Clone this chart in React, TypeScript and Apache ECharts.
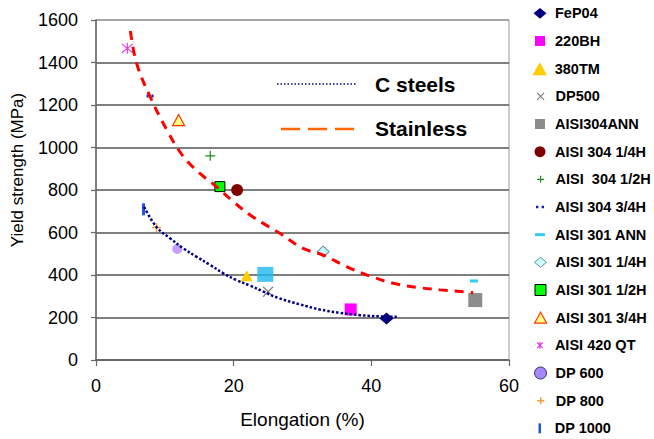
import React, { useEffect, useRef } from 'react';
import * as echarts from 'echarts';

// ---------- data ----------
const materialNames = [
  'FeP04', '220BH', '380TM', 'DP500', 'AISI304ANN', 'AISI 304 1/4H', 'AISI  304 1/2H',
  'AISI 304 3/4H', 'AISI 301 ANN', 'AISI 301 1/4H', 'AISI 301 1/2H', 'AISI 301 3/4H',
  'AISI 420 QT', 'DP 600', 'DP 800', 'DP 1000',
];
const elongation = [42.2, 37.0, 21.9, 25.0, 55.1, 20.5, 16.6, 7.85, 54.9, 33.0, 18.0, 12.0, 4.55, 11.8, 8.8, 6.9];
const yieldStrength = [195, 238, 397, 321, 282, 800, 961, 1242, 372, 510, 816, 1129, 1467, 522, 623, 709];

const unlabeledElongation = [24.6];
const unlabeledYield = [403];

const cSteelsX = [7.0, 8.8, 10.75, 12.7, 14.6, 16.6, 18.5, 20.4, 22.4, 24.3, 26.5, 29.6, 32.5, 35.4, 38.4, 41.3, 43.7];
const cSteelsY = [720, 625, 573, 525, 486, 447, 408, 376, 350, 322, 292, 262, 238, 222, 211, 205, 203];

const stainlessX = [5.0, 5.9, 7.85, 10.3, 12.7, 15.1, 17.5, 19.95, 22.4, 24.3, 26.7, 30.1, 33.0, 36.4, 39.8, 43.2, 46.6, 50.0, 53.4, 54.8];
const stainlessY = [1548, 1396, 1240, 1082, 957, 878, 816, 745, 682, 643, 596, 525, 494, 439, 395, 361, 342, 330, 321, 316];

const xTicks = { min: 0, max: 60, interval: 20 };
const yTicks = { min: 0, max: 1600, interval: 200 };

// ---------- styles ----------
const FONT = '"Liberation Sans", Arial, sans-serif';
const P = {
  diamond: 'path://M6,0L12,5L6,10L0,5Z',
  square: 'path://M0,0L10,0L10,10L0,10Z',
  triangle: 'path://M5,0L10,9L0,9Z',
  cross: 'path://M0,0L10,10M10,0L0,10',
  plus: 'path://M5,0L5,10M0,5L10,5',
  circle: 'path://M0,5A5,5,0,1,1,10,5A5,5,0,1,1,0,5Z',
  dots: 'path://M0,0L3,0L3,3L0,3ZM7,0L10,0L10,3L7,3Z',
  dash: 'path://M0,0L10,0L10,3L0,3Z',
  star: 'path://M1,1L9,9M9,1L1,9M5,0L5,10',
  bar: 'path://M0,0L2.5,0L2.5,10L0,10Z',
};

type MS = {
  symbol: string; size: number[]; fill: string; stroke?: string; bw?: number;
  lw: number; lh: number; lfill?: string; lstroke?: string;
};
const markerStyles: MS[] = [
  { symbol: P.diamond, size: [14, 12], fill: '#000080', lw: 13, lh: 11 },
  { symbol: P.square, size: [12, 12], fill: '#FF00FF', lw: 10, lh: 10 },
  { symbol: P.triangle, size: [12, 11], fill: '#FFCC00', lw: 15, lh: 13 },
  { symbol: P.cross, size: [10, 10], fill: '#808080', stroke: '#808080', bw: 1.2, lw: 7, lh: 7 },
  { symbol: P.square, size: [14, 14], fill: '#8C8C8C', lw: 10, lh: 10 },
  { symbol: P.circle, size: [12, 12], fill: '#800000', lw: 11, lh: 11 },
  { symbol: P.plus, size: [10, 10], fill: '#1E8C1E', stroke: '#1E8C1E', bw: 1.2, lw: 7, lh: 7 },
  { symbol: P.dots, size: [7, 3], fill: '#1C1CB0', lw: 8, lh: 3 },
  { symbol: P.dash, size: [8, 3], fill: '#33CCEE', lw: 10, lh: 3 },
  { symbol: P.diamond, size: [12, 11], fill: '#CCFFFF', stroke: '#5F8F9A', bw: 1, lw: 12, lh: 10 },
  { symbol: P.square, size: [10, 10], fill: '#00FF00', stroke: '#000000', bw: 1, lw: 11, lh: 11 },
  { symbol: P.triangle, size: [12, 11], fill: '#FFFF88', stroke: '#FF3300', bw: 1.2, lw: 12, lh: 11 },
  { symbol: P.star, size: [11, 11], fill: '#E040E0', stroke: '#E040E0', bw: 1.2, lw: 7, lh: 7 },
  { symbol: P.circle, size: [10, 10], fill: '#C8A0FF', lw: 12, lh: 12, lfill: '#A888F8', lstroke: '#333366' },
  { symbol: P.plus, size: [9, 9], fill: '#FF9933', stroke: '#FF9933', bw: 1.5, lw: 7, lh: 7 },
  { symbol: P.bar, size: [3, 12], fill: '#2255DD', lw: 3, lh: 10 },
];

const LEGEND_ROW0 = 13.3;
const LEGEND_STEP = 27.67;
const LEGEND_ICON_CX = 540;
const LEGEND_TEXT_X = 555;

export default function App() {
  const ref = useRef<HTMLDivElement>(null);

  useEffect(() => {
    document.body.style.margin = '0';
    if (!ref.current) return;
    const chart = echarts.init(ref.current, null, { renderer: 'svg' });

    const scatterSeries = materialNames.map((name, i) => {
      const s = markerStyles[i];
      return {
        name,
        type: 'scatter',
        data: [[elongation[i], yieldStrength[i]]],
        symbol: s.symbol,
        symbolSize: s.size,
        symbolKeepAspect: false,
        itemStyle: {
          color: s.fill,
          borderColor: s.stroke || s.fill,
          borderWidth: s.bw || 0,
          opacity: 1,
        },
        z: 2,
      };
    });

    const extra = {
      name: 'unlabeled',
      type: 'scatter',
      data: unlabeledElongation.map((x, i) => [x, unlabeledYield[i]]),
      symbol: P.square,
      symbolSize: [16, 15],
      itemStyle: { color: '#1CB8F2' },
      z: 2,
    };

    const legends = materialNames.map((name, i) => {
      const s = markerStyles[i];
      const boxH = Math.max(s.lh, 16);
      const left = LEGEND_ICON_CX - s.lw / 2;
      const padLeft = LEGEND_TEXT_X - (left + s.lw + 5);
      return {
        show: true,
        orient: 'vertical',
        left,
        top: LEGEND_ROW0 + i * LEGEND_STEP - boxH / 2,
        padding: 0,
        itemWidth: s.lw,
        itemHeight: s.lh,
        itemGap: 0,
        selectedMode: false,
        textStyle: {
          fontFamily: FONT, fontSize: 14.5, fontWeight: 'bold', color: '#000', lineHeight: 16,
          padding: [0, 0, 0, padLeft],
        },
        data: [
          {
            name,
            icon: s.symbol,
            itemStyle: {
              color: s.lfill || s.fill,
              borderColor: s.lstroke || s.stroke || s.fill,
              borderWidth: s.lstroke ? 1 : s.bw || 0,
              opacity: 1,
            },
          },
        ],
      };
    });

    const splitColors = Array.from({ length: 9 }, (_, i) => (i === 8 ? '#9A9A9A' : '#555555'));

    chart.setOption({
      animation: false,
      backgroundColor: '#fff',
      grid: { left: 96, right: 145, top: 20, bottom: 79, show: true, borderColor: '#9A9A9A', borderWidth: 1 },
      xAxis: {
        type: 'value',
        min: xTicks.min,
        max: xTicks.max,
        interval: xTicks.interval,
        name: 'Elongation (%)',
        nameLocation: 'middle',
        nameGap: 50,
        nameTextStyle: { fontFamily: FONT, fontSize: 19, color: '#000' },
        axisLine: { show: true, lineStyle: { color: '#666', width: 1.5 } },
        axisTick: { show: true, length: 6, lineStyle: { color: '#666', width: 1.2 } },
        axisLabel: { margin: 17, fontFamily: FONT, fontSize: 18, color: '#000', formatter: (v: number) => String(v) },
        splitLine: { show: false },
      },
      yAxis: {
        type: 'value',
        min: yTicks.min,
        max: yTicks.max,
        interval: yTicks.interval,
        axisLine: { show: true, lineStyle: { color: '#666', width: 1.5 } },
        axisTick: { show: true, length: 5, lineStyle: { color: '#666', width: 1.2 } },
        axisLabel: { margin: 18, fontFamily: FONT, fontSize: 18, color: '#000', formatter: (v: number) => String(v) },
        splitLine: { show: true, lineStyle: { color: splitColors, width: 1.5 } },
      },
      legend: legends,
      graphic: [
        {
          type: 'text',
          x: 17,
          y: 170,
          rotation: Math.PI / 2,
          style: {
            text: 'Yield strength (MPa)',
            fontFamily: FONT,
            fontSize: 17,
            fill: '#000',
            align: 'center',
            verticalAlign: 'middle',
            textAlign: 'center',
            textVerticalAlign: 'middle',
          },
        },
        {
          type: 'line',
          shape: { x1: 277, y1: 84, x2: 357, y2: 84 },
          style: { stroke: '#000080', lineWidth: 1.5, lineDash: [1.5, 2] },
        },
        {
          type: 'text',
          x: 375,
          y: 84,
          style: {
            text: 'C steels',
            fontFamily: FONT,
            fontSize: 21,
            fontWeight: 'bold',
            fill: '#000',
            align: 'left',
            verticalAlign: 'middle',
            textAlign: 'left',
            textVerticalAlign: 'middle',
          },
        },
        {
          type: 'line',
          shape: { x1: 281, y1: 129, x2: 355, y2: 129 },
          style: { stroke: '#FF6600', lineWidth: 2.5, lineDash: [19, 8] },
        },
        {
          type: 'text',
          x: 375,
          y: 128,
          style: {
            text: 'Stainless',
            fontFamily: FONT,
            fontSize: 21,
            fontWeight: 'bold',
            fill: '#000',
            align: 'left',
            verticalAlign: 'middle',
            textAlign: 'left',
            textVerticalAlign: 'middle',
          },
        },
      ],
      series: [
        ...scatterSeries,
        extra,
        {
          name: 'C steels',
          type: 'line',
          data: cSteelsX.map((x, i) => [x, cSteelsY[i]]),
          smooth: 0.4,
          showSymbol: false,
          symbol: 'none',
          lineStyle: { color: '#000080', width: 2.5, type: [2.5, 2], cap: 'butt' },
          z: 3,
        },
        {
          name: 'Stainless',
          type: 'line',
          data: stainlessX.map((x, i) => [x, stainlessY[i]]),
          smooth: 0.4,
          showSymbol: false,
          symbol: 'none',
          lineStyle: { color: '#FF0000', width: 3, type: [9, 7], cap: 'butt' },
          z: 3,
        },
      ],
    });

    return () => chart.dispose();
  }, []);

  return <div ref={ref} style={{ width: 654, height: 439 }} />;
}
